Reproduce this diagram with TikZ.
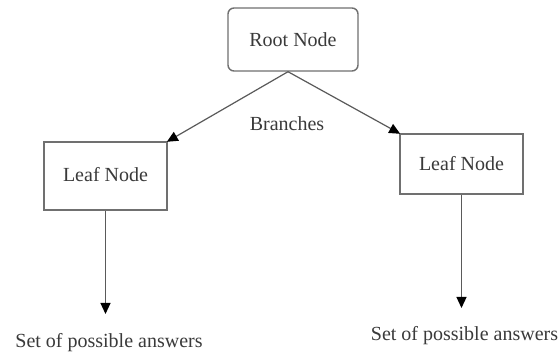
\documentclass[tikz,border=0pt]{standalone}
\usepackage{fontspec}
\setmainfont{Liberation Serif}
\usetikzlibrary{arrows.meta}
\definecolor{edgegray}{HTML}{5A5A5A}
\definecolor{boxgray}{HTML}{707070}
\definecolor{textgray}{HTML}{3A3A3A}
\tikzset{
  x=1pt, y=-1pt,
  lbl/.style={font=\fontsize{20}{24}\selectfont, text=textgray, inner sep=0pt},
  boxnode/.style={draw=boxgray, line width=1.4pt, fill=white, font=\fontsize{20}{24}\selectfont, text=textgray, inner sep=0pt},
  conn/.style={draw=edgegray, line width=1.2pt, -{Triangle[length=11pt,width=10pt,color=black,fill=black]}, shorten >=-1pt}
}
\begin{document}
\begin{tikzpicture}
\useasboundingbox[fill=white] (0,0) rectangle (560,352);
\node[boxnode, rounded corners=6pt, minimum width=130pt, minimum height=63pt] (root) at (293,39.5) {Root Node};
\node[boxnode, minimum width=123pt, minimum height=68pt] (leafL) at (105.5,176) {\raisebox{3pt}{Leaf Node}};
\node[boxnode, minimum width=123pt, minimum height=60pt] (leafR) at (461.5,164) {Leaf Node};
\node[lbl] (branches) at (287,124) {Branches};
\node[lbl, anchor=base] (ansL) at (109,348) {Set of possible answers};
\node[lbl, anchor=base] (ansR) at (464.5,341) {Set of possible answers};
\coordinate (tipL) at (105.5,313);
\coordinate (tipR) at (461.5,307);
\draw[conn] ([xshift=-5pt]root.south) -- (leafL.north east);
\draw[conn] ([xshift=-5pt]root.south) -- (leafR.north west);
\draw[conn] (leafL.south) -- (tipL);
\draw[conn] (leafR.south) -- (tipR);
\end{tikzpicture}
\end{document}
